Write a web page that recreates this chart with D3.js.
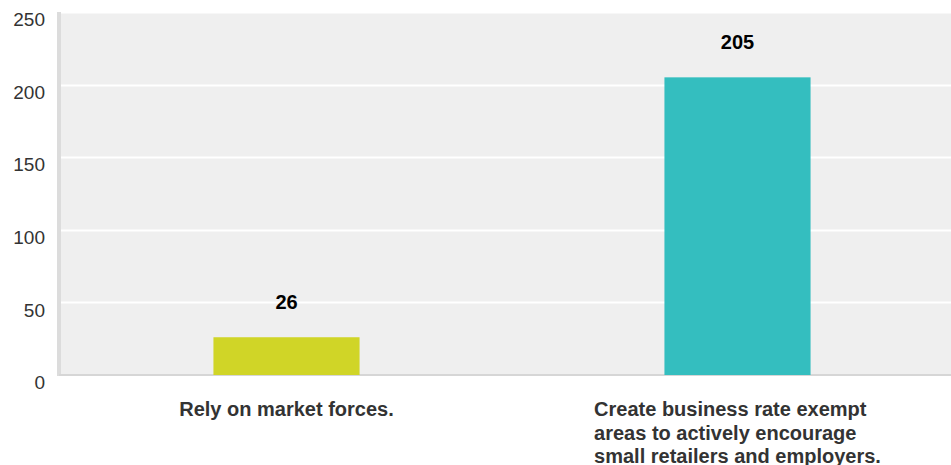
<!DOCTYPE html>
<html><head><meta charset="utf-8">
<script src="https://cdn.jsdelivr.net/npm/d3@7"></script>
<style>
html,body{margin:0;padding:0;background:#fff;}
svg{display:block;font-family:"Liberation Sans",Arial,Helvetica,sans-serif;}
</style></head><body>
<svg id="chart" width="951" height="465"></svg>
<script>
const categories = ["Rely on market forces.", "Create business rate exempt areas to actively encourage small retailers and employers."];
const categoryLines = [["Rely on market forces."], ["Create business rate exempt", "areas to actively encourage", "small retailers and employers."]];
const values = [26, 205];
const colors = ["#d0d527", "#34bebf"];
const yTicks = [0, 50, 100, 150, 200, 250];

(function(){
const svg = d3.select("#chart");
const mLeft = 61, mRight = 963, mTop = 12, mBottom = 375;

const x = d3.scaleBand().domain(categories).range([mLeft, mRight]).paddingInner(0.676).paddingOuter(0.338);
const y = d3.scaleLinear().domain([0, 250]).range([mBottom, mTop]);

svg.append("rect").attr("x", mLeft).attr("y", mTop).attr("width", 951 - mLeft).attr("height", mBottom - mTop).attr("fill", "#efefef");

// gridlines
svg.append("g").selectAll("line").data(yTicks.filter(d => d > 0)).join("line")
  .attr("x1", mLeft).attr("x2", 951).attr("y1", d => Math.round(y(d)) + 0.5).attr("y2", d => Math.round(y(d)) + 0.5)
  .attr("stroke", "#ffffff").attr("stroke-width", 2);

// left strip
svg.append("rect").attr("x", 57).attr("y", mTop).attr("width", 4).attr("height", mBottom - mTop + 1).attr("fill", "#dcdcdc");
// bottom axis line
svg.append("rect").attr("x", 59).attr("y", mBottom - 1).attr("width", 951 - 59).attr("height", 2).attr("fill", "#d6d6d6");

// y tick labels
const yAxis = d3.axisLeft(y).tickValues(yTicks).tickSize(0).tickPadding(0);
const ya = svg.append("g").attr("transform", "translate(45,0)").call(yAxis);
ya.select(".domain").remove();
ya.selectAll("text").attr("font-size", 19).attr("fill", "#333").attr("font-family", "Liberation Sans, Arial, sans-serif")
  .attr("dy", "0.72em").attr("y", 0);

// bars
svg.append("g").selectAll("rect").data(values).join("rect")
  .attr("x", (d, i) => x(categories[i]))
  .attr("width", x.bandwidth())
  .attr("y", d => y(d))
  .attr("height", d => y(0) - y(d))
  .attr("fill", (d, i) => colors[i]);

// value labels
svg.append("g").selectAll("text").data(values).join("text")
  .attr("x", (d, i) => x(categories[i]) + x.bandwidth() / 2)
  .attr("y", d => y(d) - 28)
  .attr("text-anchor", "middle").attr("font-size", 20).attr("font-weight", "bold").attr("fill", "#000")
  .text(d => d);

// category labels
categoryLines.forEach((lines, i) => {
  const cx = x(categories[i]) + x.bandwidth() / 2;
  const t = svg.append("text").attr("font-size", 20).attr("font-weight", "bold").attr("fill", "#333");
  lines.forEach((ln, j) => {
    t.append("tspan").attr("x", 0).attr("y", 416 + j * 23.5).text(ln);
  });
  let maxW = 0;
  t.selectAll("tspan").each(function(){ maxW = Math.max(maxW, this.getComputedTextLength()); });
  t.selectAll("tspan").attr("x", cx - maxW / 2);
});
})();
</script>
</body></html>
